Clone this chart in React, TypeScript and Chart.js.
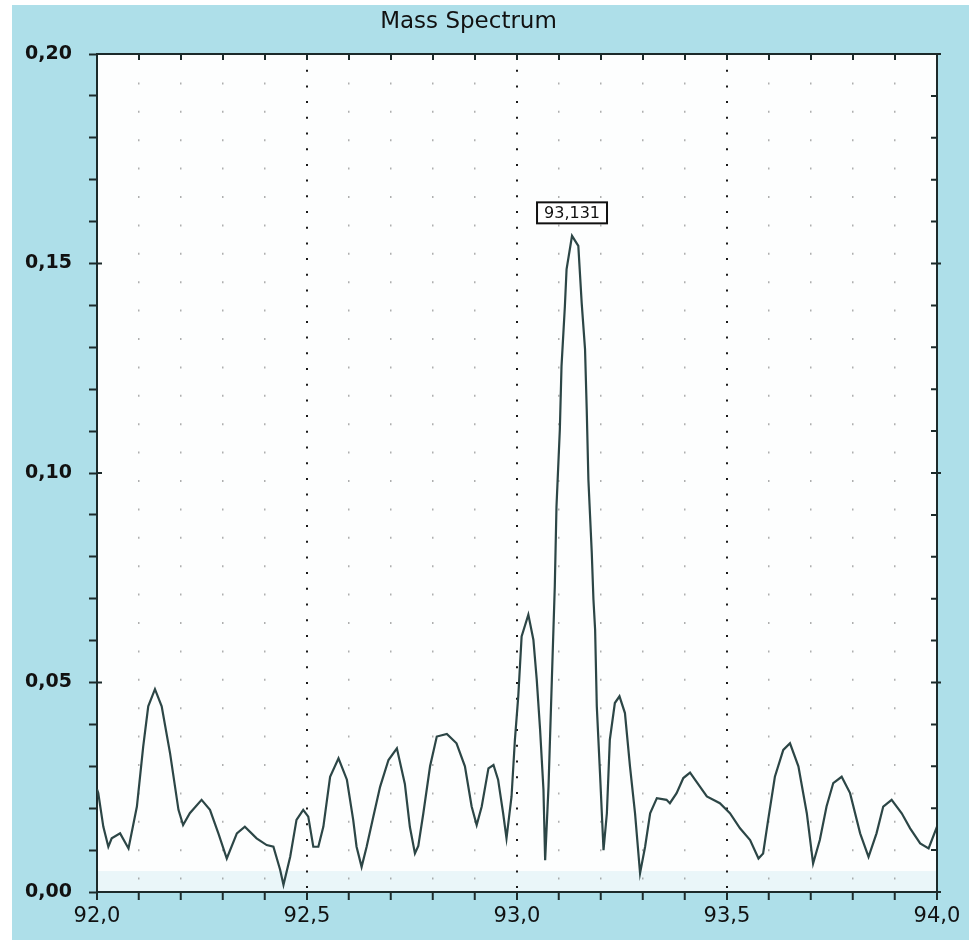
import React, { useEffect, useRef } from "react";
import { Chart, registerables } from "chart.js";

Chart.register(...registerables);

// m/z positions of the sampled profile
const massValues: number[] = [
  92.0, 92.003, 92.015, 92.027, 92.035, 92.055, 92.075, 92.095, 92.11, 92.122,
  92.138, 92.154, 92.174, 92.194, 92.205, 92.221, 92.249, 92.269, 92.289, 92.309,
  92.333, 92.352, 92.38, 92.404, 92.42, 92.436, 92.444, 92.46, 92.475, 92.491,
  92.503, 92.515, 92.527, 92.539, 92.555, 92.575, 92.595, 92.61, 92.618, 92.63,
  92.642, 92.658, 92.674, 92.694, 92.714, 92.733, 92.745, 92.757, 92.765, 92.777,
  92.793, 92.809, 92.833, 92.856, 92.876, 92.892, 92.904, 92.916, 92.932, 92.944,
  92.955, 92.967, 92.975, 92.987, 92.995, 93.003, 93.011, 93.027, 93.039, 93.047,
  93.055, 93.063, 93.067, 93.075, 93.083, 93.09, 93.094, 93.102, 93.106, 93.114,
  93.118, 93.131, 93.146, 93.154, 93.162, 93.166, 93.17, 93.178, 93.182, 93.186,
  93.19, 93.198, 93.206, 93.214, 93.221, 93.233, 93.244, 93.257, 93.269, 93.281,
  93.293, 93.305, 93.317, 93.333, 93.356, 93.364, 93.38, 93.396, 93.412, 93.436,
  93.452, 93.483, 93.507, 93.531, 93.555, 93.575, 93.586, 93.598, 93.614, 93.634,
  93.65, 93.67, 93.69, 93.705, 93.721, 93.737, 93.753, 93.773, 93.793, 93.817,
  93.837, 93.856, 93.872, 93.892, 93.916, 93.936, 93.96, 93.98, 94.0,
];

// relative intensity at each m/z position
const intensityValues: number[] = [
  0.0245, 0.0236, 0.0156, 0.0108, 0.0128, 0.014, 0.0104, 0.0204, 0.0347, 0.0443,
  0.0484, 0.0443, 0.0331, 0.0196, 0.016, 0.0188, 0.022, 0.0196, 0.014, 0.008,
  0.014, 0.0156, 0.0128, 0.0112, 0.0108, 0.0053, 0.0017, 0.0084, 0.0172, 0.0196,
  0.018, 0.0108, 0.0108, 0.0156, 0.0275, 0.0319, 0.0268, 0.0172, 0.0108, 0.006,
  0.0108, 0.018, 0.0251, 0.0315, 0.0343, 0.0258, 0.0155, 0.0092, 0.011, 0.0188,
  0.03, 0.0371, 0.0377, 0.0355, 0.03, 0.0204, 0.016, 0.0204, 0.0295, 0.0303,
  0.0268, 0.0188, 0.0128, 0.0228, 0.0363, 0.0467, 0.061, 0.0662, 0.0602, 0.0507,
  0.0387, 0.0244, 0.0076, 0.0251, 0.0507, 0.073, 0.092, 0.1104, 0.1255, 0.1398,
  0.1486, 0.1566, 0.1542, 0.1406, 0.1295, 0.1152, 0.0984, 0.081, 0.0698, 0.0626,
  0.0443, 0.0275, 0.01, 0.0188, 0.0363, 0.0451, 0.0467, 0.0427, 0.03, 0.0188,
  0.0045, 0.0108, 0.0188, 0.0224, 0.022, 0.0212, 0.0236, 0.0272, 0.0285, 0.0251,
  0.0228, 0.0212, 0.0188, 0.0152, 0.0124, 0.008, 0.0092, 0.0172, 0.0275, 0.0339,
  0.0355, 0.03, 0.0188, 0.0068, 0.0124, 0.0204, 0.026, 0.0275, 0.0236, 0.014,
  0.0084, 0.014, 0.0204, 0.022, 0.0188, 0.0152, 0.0116, 0.0104, 0.0156,
];

const chartTitle = "Mass Spectrum";
const massMin = 92.0;
const massMax = 94.0;
const massMinorStep = 0.1;
const massLabelStep = 0.5;
const intensityMin = 0;
const intensityMax = 0.2;
const intensityMinorStep = 0.01;
const intensityLabelStep = 0.05;

const FONT = "'DejaVu Sans', 'Liberation Sans', sans-serif";
const AXIS_COLOR = "#1c2a2a";
const LINE_COLOR = "#2c4646";
const PANEL_BLUE = "#aedfe9";

const isMultiple = (v: number, step: number) =>
  Math.abs(v / step - Math.round(v / step)) < 1e-6;
const withComma = (v: number, digits: number) => v.toFixed(digits).replace(".", ",");

// Paints the outer panel and the white plotting field
const backdropPlugin = {
  id: "backdrop",
  beforeDraw(chart: any) {
    const { ctx, width, height, chartArea, scales } = chart;
    ctx.save();
    ctx.fillStyle = "#ffffff";
    ctx.fillRect(0, 0, width, height);
    ctx.fillStyle = PANEL_BLUE;
    ctx.fillRect(12, 5, width - 12, height - 5);
    ctx.fillStyle = "#fdfefe";
    ctx.fillRect(chartArea.left, chartArea.top, chartArea.width, chartArea.height);
    const bandTop = scales.y.getPixelForValue(0.005);
    ctx.fillStyle = "rgba(205, 236, 243, 0.4)";
    ctx.fillRect(chartArea.left, bandTop, chartArea.width, chartArea.bottom - bandTop);
    ctx.restore();
  },
};

// Closes the frame on top/right with inward ticks and labels the highest peak
const framePlugin = {
  id: "frame",
  afterDraw(chart: any) {
    const { ctx, chartArea, scales } = chart;
    const { left, right, top, bottom } = chartArea;
    const xs = scales.x;
    const ys = scales.y;
    ctx.save();
    ctx.strokeStyle = AXIS_COLOR;
    ctx.lineWidth = 2;
    ctx.beginPath();
    ctx.moveTo(left - 1, top);
    ctx.lineTo(right, top);
    ctx.lineTo(right, bottom + 1);
    ctx.stroke();

    // top ticks pointing down
    ctx.beginPath();
    xs.ticks.forEach((t: any) => {
      const px = xs.getPixelForValue(t.value);
      ctx.moveTo(px, top);
      ctx.lineTo(px, top + 6);
    });
    // right ticks pointing left, crossing ones at labelled values
    ys.ticks.forEach((t: any) => {
      const py = ys.getPixelForValue(t.value);
      const major = isMultiple(t.value, intensityLabelStep);
      ctx.moveTo(right - 6, py);
      ctx.lineTo(right + (major ? 4 : 0), py);
      if (major) {
        ctx.moveTo(left, py);
        ctx.lineTo(left + 5, py);
      }
    });
    ctx.stroke();

    // peak annotation
    let peak = 0;
    intensityValues.forEach((v, i) => {
      if (v > intensityValues[peak]) peak = i;
    });
    const px = xs.getPixelForValue(massValues[peak]);
    const py = ys.getPixelForValue(intensityValues[peak]);
    const text = withComma(massValues[peak], 3);
    ctx.font = `16px ${FONT}`;
    const tw = ctx.measureText(text).width;
    const bw = tw + 14;
    const bh = 21;
    const cy = py - 23;
    ctx.fillStyle = "#ffffff";
    ctx.fillRect(px - bw / 2, cy - bh / 2, bw, bh);
    ctx.strokeStyle = "#111";
    ctx.lineWidth = 2;
    ctx.strokeRect(px - bw / 2, cy - bh / 2, bw, bh);
    ctx.fillStyle = "#111";
    ctx.textAlign = "center";
    ctx.textBaseline = "middle";
    ctx.fillText(text, px, cy + 1);
    ctx.restore();
  },
};

export default function App() {
  const canvasRef = useRef<HTMLCanvasElement | null>(null);

  useEffect(() => {
    if (!canvasRef.current) return;
    const points = massValues.map((m, i) => ({ x: m, y: intensityValues[i] }));

    const chart = new Chart(canvasRef.current, {
      type: "line",
      data: {
        datasets: [
          {
            label: chartTitle,
            data: points,
            borderColor: LINE_COLOR,
            borderWidth: 2.2,
            pointRadius: 0,
            tension: 0,
            fill: false,
          },
        ],
      },
      options: {
        responsive: false,
        animation: false,
        events: [],
        layout: { padding: { left: 0, right: 32, top: 0, bottom: 0 } },
        plugins: {
          legend: { display: false },
          tooltip: { enabled: false },
          title: {
            display: true,
            text: chartTitle,
            color: "#111",
            font: { family: FONT, size: 23, weight: "normal" },
            padding: { top: 8, bottom: 18.4 },
          },
        },
        scales: {
          x: {
            type: "linear",
            position: "bottom",
            min: massMin,
            max: massMax,
            afterFit: (scale: any) => {
              scale.height = 48;
            },
            ticks: {
              stepSize: massMinorStep,
              autoSkip: false,
              maxRotation: 0,
              padding: 4,
              color: "#111",
              font: { family: FONT, size: 21 },
              callback: (v: any) => (isMultiple(Number(v), massLabelStep) ? withComma(Number(v), 1) : ""),
            },
            grid: {
              drawOnChartArea: true,
              drawTicks: true,
              tickLength: 8,
              tickWidth: 2,
              tickColor: AXIS_COLOR,
              color: (ctx: any) => {
                const v = ctx.tick ? ctx.tick.value : 0;
                if (Math.abs(v - massMin) < 1e-6 || Math.abs(v - massMax) < 1e-6) return "rgba(0,0,0,0)";
                return isMultiple(v, massLabelStep) ? "#1a1a1a" : "rgba(110,110,110,0.55)";
              },
              lineWidth: (ctx: any) =>
                ctx.tick && isMultiple(ctx.tick.value, massLabelStep) ? 2 : 1.5,
            },
            border: {
              display: true,
              color: AXIS_COLOR,
              width: 2,
              dash: (ctx: any) =>
                ctx.tick
                  ? isMultiple(ctx.tick.value, massLabelStep)
                    ? [2, 13.7]
                    : [2, 26.4]
                  : [],
            },
          },
          y: {
            type: "linear",
            position: "left",
            min: intensityMin,
            max: intensityMax,
            afterFit: (scale: any) => {
              scale.width = 97;
            },
            ticks: {
              stepSize: intensityMinorStep,
              autoSkip: false,
              padding: 17,
              color: "#111",
              font: { family: FONT, size: 19, weight: "bold" },
              callback: (v: any) =>
                isMultiple(Number(v), intensityLabelStep) ? withComma(Number(v), 2) : "",
            },
            grid: {
              drawOnChartArea: false,
              drawTicks: true,
              tickLength: 8,
              tickWidth: 2,
              tickColor: AXIS_COLOR,
            },
            border: { display: true, color: AXIS_COLOR, width: 2 },
          },
        },
      },
      plugins: [backdropPlugin, framePlugin],
    });

    return () => chart.destroy();
  }, []);

  return (
    <div
      style={{
        position: "fixed",
        left: 0,
        top: 0,
        width: 969,
        height: 940,
        background: "#ffffff",
      }}
    >
      <canvas ref={canvasRef} width={969} height={940} style={{ display: "block", width: 969, height: 940 }} />
    </div>
  );
}
